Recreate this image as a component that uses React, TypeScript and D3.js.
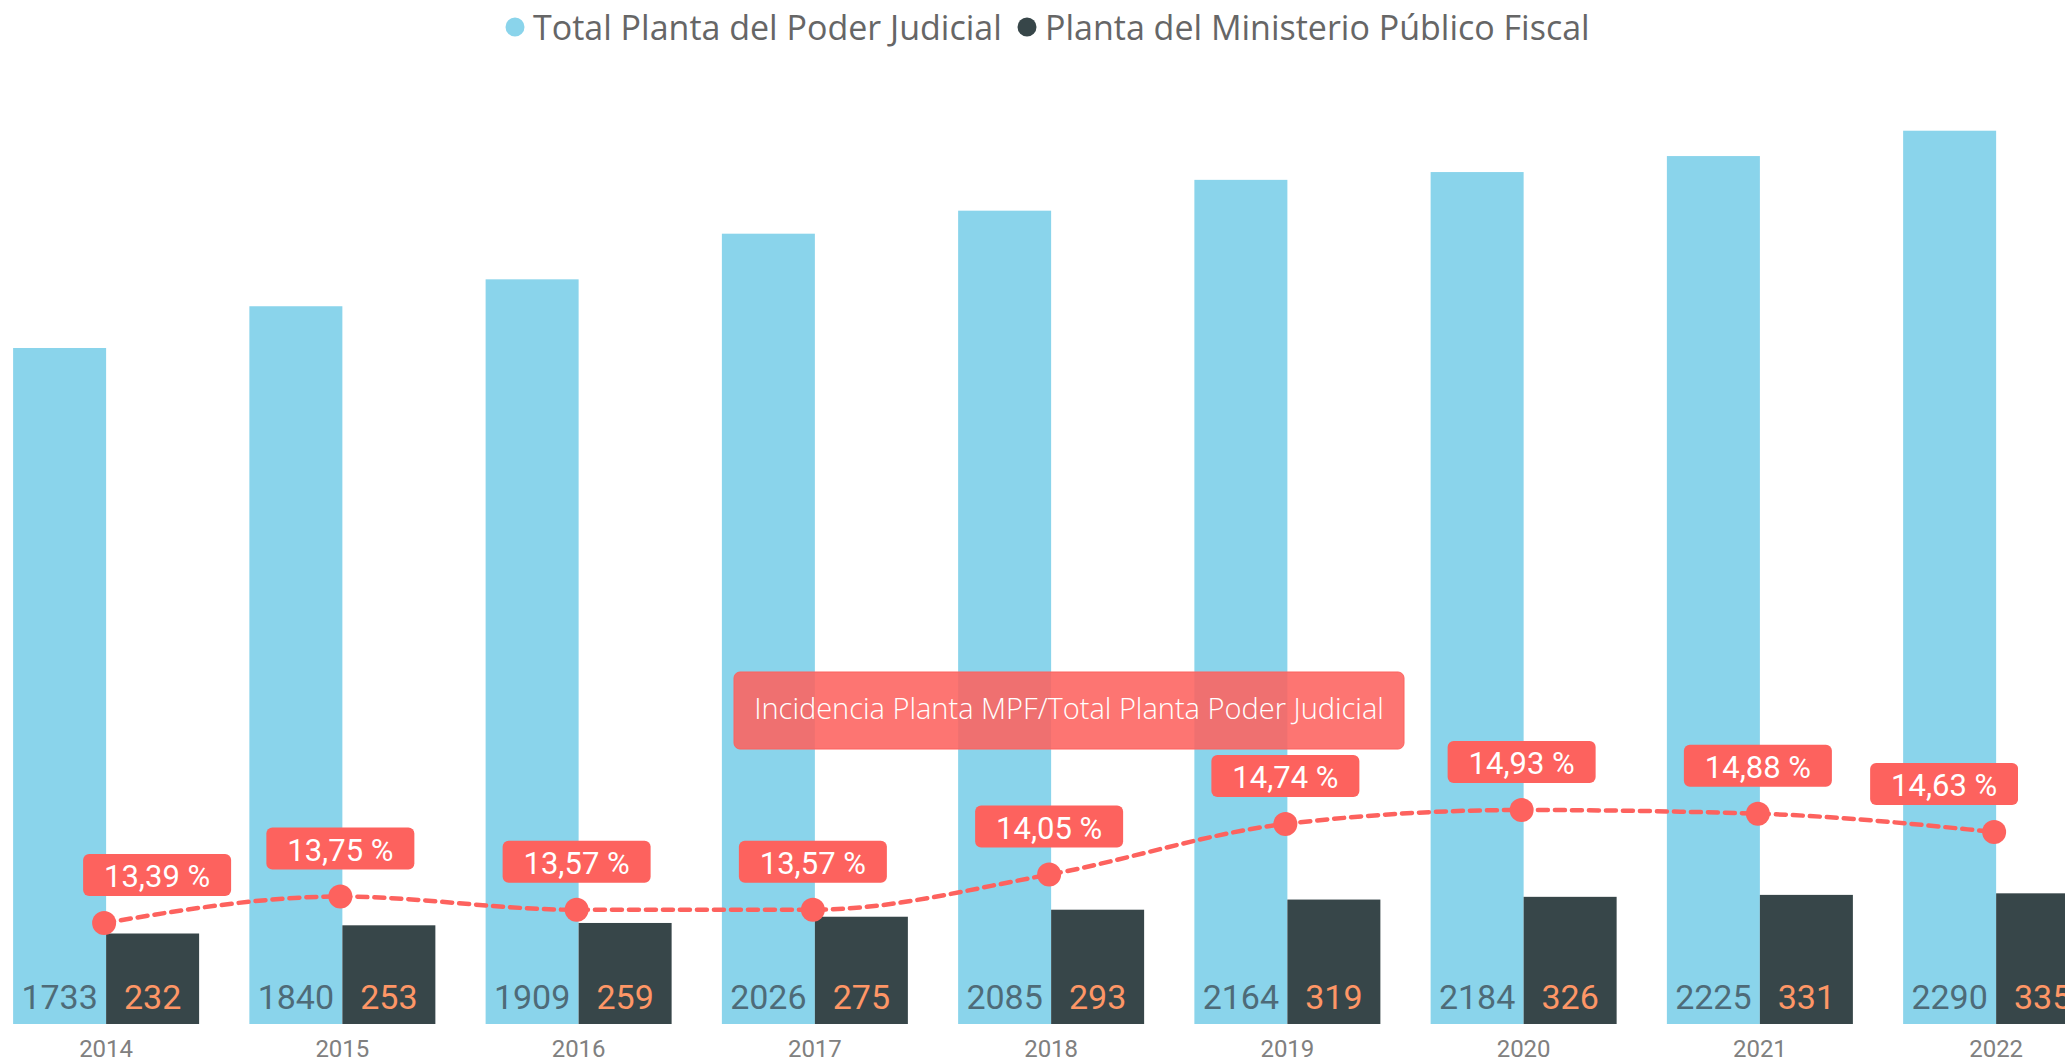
import React from "react";
import * as d3 from "d3";

const years = ["2014", "2015", "2016", "2017", "2018", "2019", "2020", "2021", "2022"];
const totalPJ = [1733, 1840, 1909, 2026, 2085, 2164, 2184, 2225, 2290];
const plantaMPF = [232, 253, 259, 275, 293, 319, 326, 331, 335];
const incidencia = [13.39, 13.75, 13.57, 13.57, 14.05, 14.74, 14.93, 14.88, 14.63];
const seriesNames = ["Total Planta del Poder Judicial", "Planta del Ministerio Público Fiscal"];
const annotationText = "Incidencia Planta MPF/Total Planta Poder Judicial";

const W = 2065;
const H = 1062;
const LIGHT = "#8AD4EB";
const DARK = "#374649";
const RED = "#FD625E";
const ORANGE = "#FE9666";
const NUM = "Roboto, 'DejaVu Sans', sans-serif";
const SANS = "'Open Sans', 'Noto Sans', sans-serif";

export default function App() {
  const x = d3
    .scaleBand<string>()
    .domain(years)
    .range([-12, -12 + 9 * 236.25])
    .paddingInner(0.2127)
    .paddingOuter(0.1063);
  const sub = d3.scaleBand<string>().domain(["pj", "mpf"]).range([0, x.bandwidth()]);
  const y = d3.scaleLinear().domain([0, 2420]).range([1024, 80]);
  const yp = d3.scaleLinear().domain([13.39, 14.93]).range([923, 810]);

  const cx = (i: number) => (x(years[i]) as number) + x.bandwidth() / 2 - 2;
  const pts: [number, number][] = incidencia.map((v, i) => [cx(i), yp(v)]);
  const line = d3.line().curve(d3.curveMonotoneX)(pts) || "";

  const boxW = 148;
  const boxH = 42;

  return (
    <svg
      width={W}
      height={H}
      style={{ position: "absolute", left: 0, top: 0, display: "block", background: "#fff" }}
    >
      <defs>
        <clipPath id="plotclip">
          <rect x={0} y={0} width={2018} height={H} />
        </clipPath>
      </defs>
      {/* legend */}
      <g fontFamily={SANS} fontSize={34} fill="#666666">
        <circle cx={515} cy={27} r={9.5} fill={LIGHT} />
        <text x={533} y={40}>{seriesNames[0]}</text>
        <circle cx={1027} cy={27} r={9.5} fill={DARK} />
        <text x={1045} y={40}>{seriesNames[1]}</text>
      </g>

      {/* bars */}
      {years.map((yr, i) => {
        const x0 = x(yr) as number;
        const bw = sub.bandwidth();
        return (
          <g key={yr}>
            <rect x={x0 + (sub("pj") as number)} y={y(totalPJ[i])} width={bw} height={y(0) - y(totalPJ[i])} fill={LIGHT} />
            <rect x={x0 + (sub("mpf") as number)} y={y(plantaMPF[i])} width={bw} height={y(0) - y(plantaMPF[i])} fill={DARK} />
            <text
              x={x0 + (sub("pj") as number) + bw / 2}
              y={1009}
              textAnchor="middle"
              fontFamily={NUM}
              fontSize={34}
              fill="#4E6B78"
            >
              {totalPJ[i]}
            </text>
            <text
              x={x0 + (sub("mpf") as number) + bw / 2}
              y={1009}
              textAnchor="middle"
              fontFamily={NUM}
              fontSize={34}
              fill={ORANGE}
            >
              {plantaMPF[i]}
            </text>
            <text
              x={x0 + x.bandwidth() / 2}
              y={1057}
              textAnchor="middle"
              fontFamily={NUM}
              fontSize={24}
              fill="#808080"
            >
              {yr}
            </text>
          </g>
        );
      })}

      {/* annotation */}
      <g>
        <rect x={734} y={672} width={670} height={77} rx={6} fill={RED} fillOpacity={0.88} stroke={RED} strokeWidth={1} />
        <text
          x={1069}
          y={719}
          textAnchor="middle"
          fontFamily={SANS}
          fontWeight={300}
          fontSize={29}
          fill="#ffffff"
        >
          {annotationText}
        </text>
      </g>

      {/* line */}
      <path d={line} fill="none" stroke={RED} strokeWidth={4.5} strokeDasharray="10,7" strokeLinecap="round" />
      {pts.map((p, i) => (
        <circle key={i} cx={p[0]} cy={p[1]} r={12} fill={RED} />
      ))}

      {/* percentage labels */}
      <g clipPath="url(#plotclip)">
        {pts.map((p, i) => {
          const shift = i === 0 ? 53 : i === pts.length - 1 ? -50 : 0;
          const bx = p[0] + shift - boxW / 2;
          const by = p[1] - 27 - boxH;
          return (
            <g key={i}>
              <rect x={bx} y={by} width={boxW} height={boxH} rx={6} fill={RED} />
              <text
                x={bx + boxW / 2}
                y={by + 33}
                textAnchor="middle"
                fontFamily={NUM}
                fontSize={31}
                fill="#ffffff"
              >
                {incidencia[i].toFixed(2).replace(".", ",") + " %"}
              </text>
            </g>
          );
        })}
      </g>
    </svg>
  );
}
